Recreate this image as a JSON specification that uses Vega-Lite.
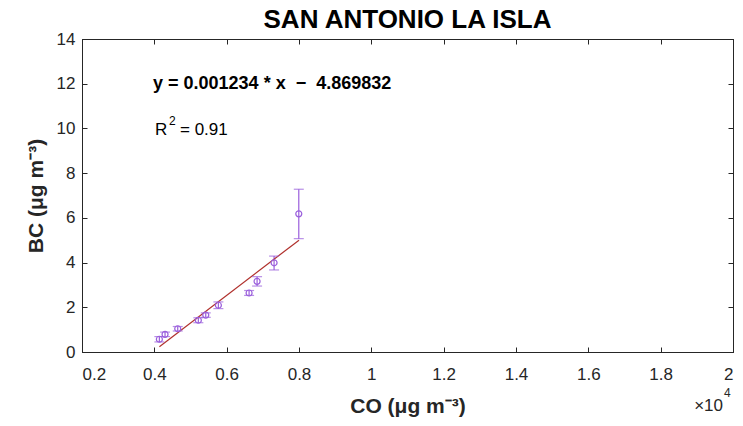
{
  "$schema": "https://vega.github.io/schema/vega-lite/v6.json",
  "width": 651,
  "height": 313,
  "autosize": "none",
  "padding": {"left": 82, "top": 39, "right": 10, "bottom": 74},
  "background": "white",
  "title": {"text": "SAN ANTONIO LA ISLA", "fontSize": 26, "font": "Liberation Sans", "fontWeight": "bold", "color": "#000000", "anchor": "middle", "offset": -3},
  "datasets": {
    "obs": [
      {"co": 4139, "bc": 0.57, "lo": 0.45, "hi": 0.69},
      {"co": 4296, "bc": 0.79, "lo": 0.69, "hi": 0.89},
      {"co": 4647, "bc": 1.04, "lo": 0.94, "hi": 1.14},
      {"co": 5217, "bc": 1.42, "lo": 1.31, "hi": 1.53},
      {"co": 5422, "bc": 1.65, "lo": 1.55, "hi": 1.75},
      {"co": 5771, "bc": 2.09, "lo": 1.94, "hi": 2.24},
      {"co": 6620, "bc": 2.64, "lo": 2.53, "hi": 2.75},
      {"co": 6841, "bc": 3.16, "lo": 2.95, "hi": 3.37},
      {"co": 7311, "bc": 3.99, "lo": 3.67, "hi": 4.29},
      {"co": 7994, "bc": 6.18, "lo": 5.07, "hi": 7.28}
    ],
    "fit": [
      {"co": 4140, "bc": 0.239},
      {"co": 8000, "bc": 5.002}
    ],
    "notes": [
      {"co": 3964, "bc": 11.99, "label": "y = 0.001234 * x \u00a0\u2212\u00a0 4.869832", "kind": "eq"},
      {"co": 4018, "bc": 9.91, "label": "R", "kind": "big"},
      {"co": 4405, "bc": 10.33, "label": "2", "kind": "sup"},
      {"co": 4710, "bc": 9.91, "label": "= 0.91", "kind": "big"},
      {"co": 19723, "bc": -2.4, "label": "\u00d710", "kind": "mult"},
      {"co": 19750, "bc": -1.82, "label": "4", "kind": "multsup"}
    ]
  },
  "layer": [
    {
      "data": {"name": "obs"},
      "mark": {"type": "rule", "color": "#9a5fdc", "strokeWidth": 1.2},
      "encoding": {
        "x": {"field": "co", "type": "quantitative", "scale": {"domain": [2000, 20000], "nice": false, "zero": false},
              "axis": {"orient": "bottom", "values": [2000, 4000, 6000, 8000, 10000, 12000, 14000, 16000, 18000, 20000], "labelExpr": "'' + datum.value / 10000", "title": "CO (\u03bcg m\u207b\u00b3)", "titlePadding": 13, "labelPadding": 19}},
        "y": {"field": "lo", "type": "quantitative", "scale": {"domain": [0, 14], "nice": false},
              "axis": {"orient": "left", "values": [0, 2, 4, 6, 8, 10, 12, 14], "title": "BC (\u03bcg m\u207b\u00b3)", "titlePadding": 10, "labelPadding": 12}},
        "y2": {"field": "hi"}
      }
    },
    {
      "data": {"name": "fit"},
      "mark": {"type": "line", "color": "#b0302c", "strokeWidth": 1.2},
      "encoding": {
        "x": {"field": "co", "type": "quantitative", "axis": {"orient": "top", "values": [2000, 4000, 6000, 8000, 10000, 12000, 14000, 16000, 18000, 20000], "labels": false, "title": null}},
        "y": {"field": "bc", "type": "quantitative", "axis": {"orient": "right", "values": [0, 2, 4, 6, 8, 10, 12, 14], "labels": false, "title": null}}
      }
    },
    {
      "data": {"name": "obs"},
      "mark": {"type": "tick", "orient": "horizontal", "color": "#9a5fdc", "size": 10, "thickness": 1.2},
      "encoding": {
        "x": {"field": "co", "type": "quantitative", "axis": null},
        "y": {"field": "lo", "type": "quantitative", "axis": null}
      }
    },
    {
      "data": {"name": "obs"},
      "mark": {"type": "tick", "orient": "horizontal", "color": "#9a5fdc", "size": 10, "thickness": 1.2},
      "encoding": {
        "x": {"field": "co", "type": "quantitative", "axis": null},
        "y": {"field": "hi", "type": "quantitative", "axis": null}
      }
    },
    {
      "data": {"name": "obs"},
      "mark": {"type": "point", "shape": "circle", "filled": false, "color": "#9a5fdc", "size": 36, "strokeWidth": 1.2, "opacity": 1},
      "encoding": {
        "x": {"field": "co", "type": "quantitative", "axis": null},
        "y": {"field": "bc", "type": "quantitative", "axis": null}
      }
    },
    {
      "data": {"name": "notes"},
      "transform": [{"filter": "datum.kind == 'eq'"}],
      "mark": {"type": "text", "align": "left", "baseline": "middle", "font": "Liberation Sans", "fontSize": 18, "fontWeight": "bold", "color": "#000000"},
      "encoding": {
        "x": {"field": "co", "type": "quantitative", "axis": null},
        "y": {"field": "bc", "type": "quantitative", "axis": null},
        "text": {"field": "label"}
      }
    },
    {
      "data": {"name": "notes"},
      "transform": [{"filter": "datum.kind == 'big'"}],
      "mark": {"type": "text", "align": "left", "baseline": "middle", "font": "Liberation Sans", "fontSize": 17, "color": "#000000"},
      "encoding": {
        "x": {"field": "co", "type": "quantitative", "axis": null},
        "y": {"field": "bc", "type": "quantitative", "axis": null},
        "text": {"field": "label"}
      }
    },
    {
      "data": {"name": "notes"},
      "transform": [{"filter": "datum.kind == 'sup'"}],
      "mark": {"type": "text", "align": "left", "baseline": "middle", "font": "Liberation Sans", "fontSize": 12, "color": "#000000"},
      "encoding": {
        "x": {"field": "co", "type": "quantitative", "axis": null},
        "y": {"field": "bc", "type": "quantitative", "axis": null},
        "text": {"field": "label"}
      }
    },
    {
      "data": {"name": "notes"},
      "transform": [{"filter": "datum.kind == 'mult'"}],
      "mark": {"type": "text", "align": "right", "baseline": "middle", "font": "Liberation Sans", "fontSize": 17, "color": "#262626", "clip": false},
      "encoding": {
        "x": {"field": "co", "type": "quantitative", "axis": null},
        "y": {"field": "bc", "type": "quantitative", "axis": null},
        "text": {"field": "label"}
      }
    },
    {
      "data": {"name": "notes"},
      "transform": [{"filter": "datum.kind == 'multsup'"}],
      "mark": {"type": "text", "align": "left", "baseline": "middle", "font": "Liberation Sans", "fontSize": 12, "color": "#262626", "clip": false},
      "encoding": {
        "x": {"field": "co", "type": "quantitative", "axis": null},
        "y": {"field": "bc", "type": "quantitative", "axis": null},
        "text": {"field": "label"}
      }
    }
  ],
  "resolve": {"axis": {"x": "independent", "y": "independent"}},
  "config": {
    "view": {"stroke": "#262626", "strokeWidth": 1},
    "axis": {
      "grid": false,
      "domainColor": "#262626",
      "tickColor": "#262626",
      "tickSize": -5,
      "labelColor": "#262626",
      "labelFont": "Liberation Sans",
      "labelFontSize": 17,
      "titleFont": "Liberation Sans",
      "titleFontSize": 21,
      "titleFontWeight": "bold",
      "titleColor": "#262626"
    }
  }
}
